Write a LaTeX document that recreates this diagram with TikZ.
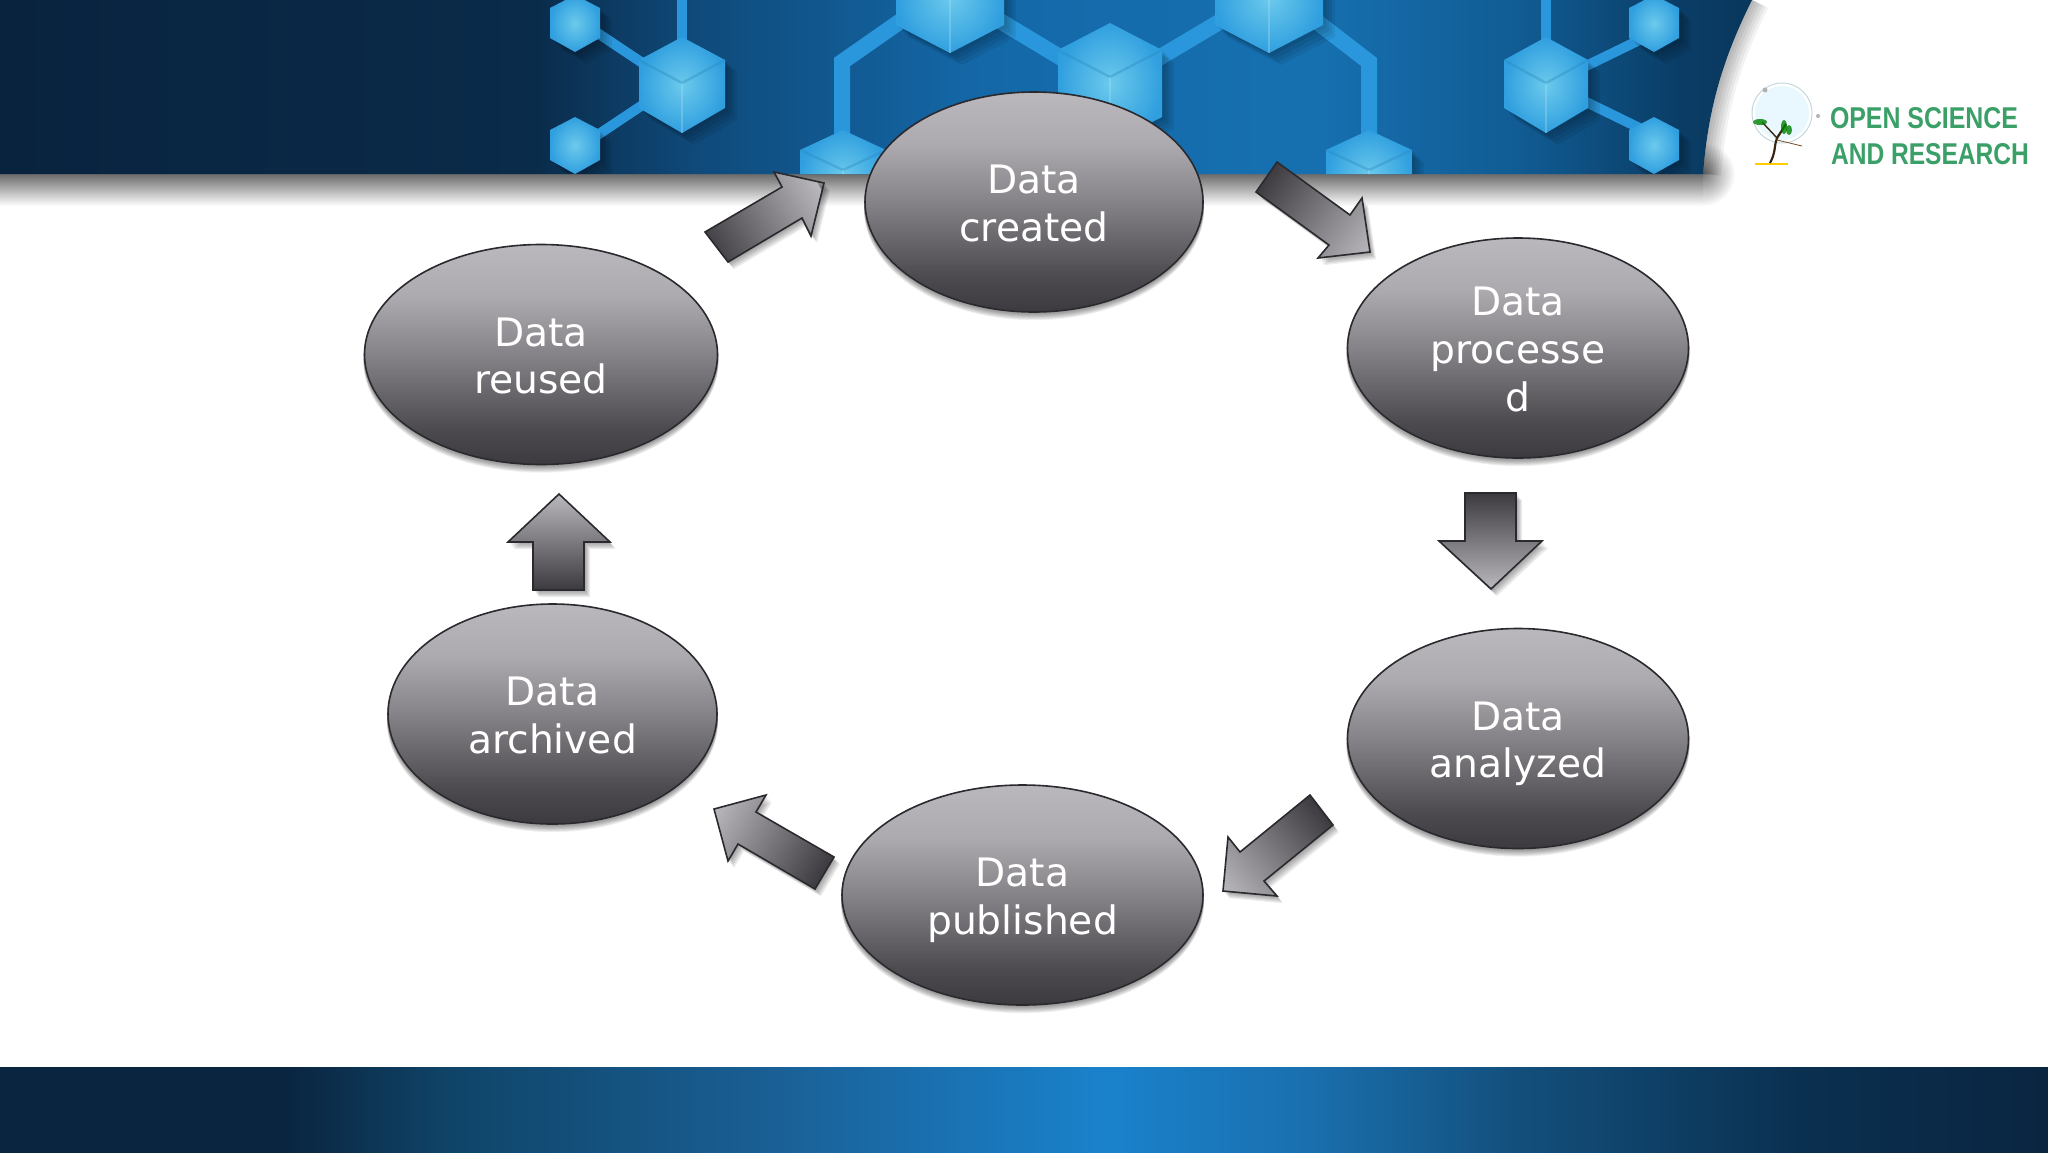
\documentclass[tikz,border=0pt]{standalone}
\usepackage{fontspec}
\usepackage{graphicx}
\usetikzlibrary{shapes.geometric}
\setmainfont{DejaVu Sans}
\newfontfamily\logofont{Liberation Sans}
\definecolor{cA}{HTML}{09233E}
\definecolor{cB}{HTML}{0A2B4A}
\definecolor{cC}{HTML}{0F4A7A}
\definecolor{cD}{HTML}{1468A8}
\definecolor{cE}{HTML}{1670B0}
\definecolor{cF}{HTML}{115C94}
\definecolor{cG}{HTML}{0A3D66}
\definecolor{cH}{HTML}{083050}
\definecolor{fA}{HTML}{0A2540}
\definecolor{fB}{HTML}{0F4468}
\definecolor{fC}{HTML}{1A6096}
\definecolor{fD}{HTML}{1A82CC}
\definecolor{fE}{HTML}{1A6FAE}
\definecolor{fF}{HTML}{134F7C}
\definecolor{fG}{HTML}{0A3050}
\definecolor{ellTop}{HTML}{BAB8BC}
\definecolor{ellUp}{HTML}{ACAAAE}
\definecolor{ellMid}{HTML}{858387}
\definecolor{ellLow}{HTML}{4C4A4F}
\definecolor{ellBot}{HTML}{3C3A3F}
\definecolor{edge}{HTML}{2A2A2E}
\definecolor{cubeIn}{HTML}{6CCAEC}
\definecolor{cubeOut}{HTML}{309FDF}
\definecolor{bond}{HTML}{2A97DC}
\definecolor{logoGreen}{HTML}{3AA068}
% visible part of a shading is 25bp..75bp of the declared range
\pgfdeclarehorizontalshading{hdrshade}{100bp}{color(0bp)=(cA);color(25bp)=(cA);color(38bp)=(cB);color(42bp)=(cC);color(49bp)=(cD);color(57bp)=(cE);color(62bp)=(cF);color(66bp)=(cG);color(70bp)=(cH);color(100bp)=(cH)}
\pgfdeclarehorizontalshading{ftrshade}{100bp}{color(0bp)=(fA);color(25bp)=(fA);color(32bp)=(fA);color(36bp)=(fB);color(44bp)=(fC);color(52bp)=(fD);color(57bp)=(fE);color(62bp)=(fF);color(69bp)=(fG);color(75bp)=(fA);color(100bp)=(fA)}
\pgfdeclareverticalshading{ovalshade}{100bp}{color(0bp)=(ellBot);color(25bp)=(ellBot);color(33bp)=(ellLow);color(50bp)=(ellMid);color(63bp)=(ellUp);color(75bp)=(ellTop);color(100bp)=(ellTop)}
\tikzset{
  x=0.5pt,y=-0.5pt,
  dataell/.style={ellipse,draw=edge,line width=0.8pt,inner sep=0pt,outer sep=0pt,
    shading=ovalshade,text depth=0pt,
    text=white,align=center,font=\fontsize{19.6}{23.85}\selectfont},
  bondline/.style={draw=bond,line width=8pt,line join=miter},
  arrowedge/.style={draw=edge,line width=0.8pt,line join=miter},
  logotext/.style={text=logoGreen,inner sep=0pt,font=\logofont\bfseries}
}
\newcommand{\dataoval}[6]{%
  \foreach \k in {1,2,...,9}{\fill[black,opacity=0.05] (#2,#3+\k*0.8) ellipse [x radius=#4+1,y radius=#5+1];}
  \node[dataell,minimum width=#4 pt,minimum height=110pt] (#1) at (#2,#3) {\rule{0pt}{15.6pt}#6};}
\newcommand{\garrow}[5]{%
  \foreach \k in {1,2,3,4,5,6}{\fill[black,opacity=0.07,shift={(\k,\k*1.2)}] #1;}
  \begin{scope}
    \clip #1;
    \begin{scope}[transform canvas={shift={(#2,#3)},rotate=#4}]
      \shade[left color=ellBot,middle color=ellMid!75!ellTop,right color=ellTop] (-#5,-200) rectangle (#5,200);
    \end{scope}
  \end{scope}
  \draw[arrowedge] #1;}
\newcommand{\hexbase}[6]{% cx top shoulder low bottom halfwidth
  \foreach \s in {3,6,9,12}{\fill[black,opacity=0.07] (#1+\s,#2+\s) -- (#1+#6+\s,#3+\s) -- (#1+#6+\s,#4+\s) -- (#1+\s,#5+\s) -- (#1-#6+\s,#4+\s) -- (#1-#6+\s,#3+\s) -- cycle;}
  \shade[inner color=cubeIn,outer color=cubeOut] (#1,#2) -- (#1+#6,#3) -- (#1+#6,#4) -- (#1,#5) -- (#1-#6,#4) -- (#1-#6,#3) -- cycle;}
\newcommand{\hexcube}[6]{%
  \hexbase{#1}{#2}{#3}{#4}{#5}{#6}
  \draw[cubeOut!85!black,opacity=0.35,line width=1.2pt] (#1-#6,#3) -- (#1,#3+#3-#2) -- (#1+#6,#3);
  \draw[cubeIn!60!white,opacity=0.35,line width=0.9pt] (#1,#3+#3-#2) -- (#1,#5);}
\begin{document}
\begin{tikzpicture}
\useasboundingbox (0,0) rectangle (2048,1152);
\fill[white] (0,0) rectangle (2048,1152);
% header shadow
\shade[inner color=black!52,outer color=white] (1703,174) circle [radius=32];
\shade[top color=black!58,bottom color=white] (0,174) rectangle (1703,206);
% header
\begin{scope}
  \clip (0,0) -- (1752,0) .. controls (1722,60) and (1708,110) .. (1703,174) -- (0,174) -- cycle;
  \shade[shading=hdrshade] (0,0) rectangle (2048,174);
  % bonds
  \draw[bondline] (842,140) -- (842,62) -- (905,18);
  \draw[bondline] (995,18) -- (1068,62);
  \draw[bondline] (1152,62) -- (1226,18);
  \draw[bondline] (1312,18) -- (1369,62) -- (1369,140);
  \draw[bondline,line width=5pt] (682,0) -- (682,40);
  \draw[bondline,line width=5pt] (1546,0) -- (1546,40);
  \draw[bondline,line width=5pt] (590,28) -- (650,68);
  \draw[bondline,line width=5pt] (590,140) -- (650,100);
  \draw[bondline,line width=5pt] (1664,28) -- (1582,68);
  \draw[bondline,line width=5pt] (1664,140) -- (1582,100);
  % cubes
  \hexcube{950}{-57}{-30}{25}{53}{54}
  \hexcube{1269}{-57}{-30}{25}{53}{54}
  \hexcube{1110}{23}{50}{117}{143}{52}
  \hexcube{843}{130}{150}{200}{222}{43}
  \hexcube{1369}{130}{150}{200}{222}{43}
  \hexcube{682}{37}{60}{108}{133}{43}
  \hexcube{1546}{37}{60}{108}{133}{42}
  \hexbase{575}{-5}{8}{38}{52}{25}
  \hexbase{575}{117}{130}{160}{174}{25}
  \hexbase{1654}{-5}{8}{38}{52}{25}
  \hexbase{1654}{117}{130}{160}{174}{25}
\end{scope}
% soft shadow beside the curve
\begin{scope}
  \clip (1752,0) .. controls (1722,60) and (1708,110) .. (1703,174) -- (1760,210) -- (1800,0) -- cycle;
  \foreach \w in {3,6,9,12,15,18}{\draw[black,opacity=0.05,line width=\w pt] (1752,0) .. controls (1722,60) and (1708,110) .. (1703,174);}
\end{scope}
% logo
\fill[cyan!9] (1782,113) circle [radius=27];
\draw[cyan!30!gray!40,line width=0.5pt] (1782,113) circle [radius=30];
\fill[gray!60] (1765,90) circle [radius=2.5];
\fill[gray!60] (1818,116) circle [radius=2];
\draw[orange!40!yellow,line width=1.2pt] (1755,164) -- (1788,164);
\draw[black!70!brown,line width=1.1pt] (1770,163) .. controls (1776,152) and (1774,145) .. (1777,138) -- (1786,124);
\draw[black!70!brown,line width=0.7pt] (1777,138) -- (1762,122);
\draw[black!40!brown,line width=0.4pt] (1777,140) -- (1802,146);
\fill[green!50!black,opacity=0.8] (1760,122) ellipse [x radius=7,y radius=3];
\fill[green!50!black,opacity=0.8] (1784,127) ellipse [x radius=3,y radius=7];
\fill[green!50!black,opacity=0.8] (1789,130) ellipse [x radius=3,y radius=5];
\node[logotext,anchor=center] (logoA) at (1924,118.5) {\resizebox{94pt}{10.5pt}{OPEN SCIENCE}};
\node[logotext,anchor=center] (logoB) at (1930,154) {\resizebox{99pt}{10.5pt}{AND RESEARCH}};
% footer
\shade[shading=ftrshade] (0,1067) rectangle (2048,1152);
% arrows
\garrow{(824,183) -- (774,172) -- (782,187) -- (705,232) -- (728,262) -- (802,218) -- (811,236) -- cycle}{765}{222}{30}{65}
\garrow{(1277,162) -- (1350,215) -- (1362,198) -- (1370,252) -- (1318,258) -- (1329,245) -- (1256,192) -- cycle}{1318}{214}{-36}{65}
\garrow{(1465,493) -- (1516,493) -- (1516,541) -- (1542,541) -- (1491,589) -- (1439,541) -- (1465,541) -- cycle}{1490}{541}{-90}{48}
\garrow{(1310,795) -- (1333,825) -- (1264,881) -- (1277,896) -- (1223,891) -- (1228,837) -- (1240,852) -- cycle}{1272}{850}{-140.4}{64}
\garrow{(834,857) -- (815,889) -- (738,844) -- (728,861) -- (714,809) -- (766,795) -- (756,812) -- cycle}{769}{841}{150}{64}
\garrow{(533,590) -- (584,590) -- (584,542) -- (610,542) -- (559,494) -- (508,542) -- (533,542) -- cycle}{559}{542}{90}{48}
% process ovals
\dataoval{created}{1034}{202}{169}{110}{Data\\created}
\dataoval{processed}{1518}{348}{170.5}{110}{Data\\processe\\d}
\dataoval{analyzed}{1518}{738.5}{170.5}{110}{Data\\analyzed}
\dataoval{published}{1022.5}{895}{180.5}{110}{Data\\published}
\dataoval{archived}{552.5}{714}{164.5}{110}{Data\\archived}
\dataoval{reused}{541}{354.5}{176.5}{110}{Data\\reused}
\end{tikzpicture}
\end{document}
